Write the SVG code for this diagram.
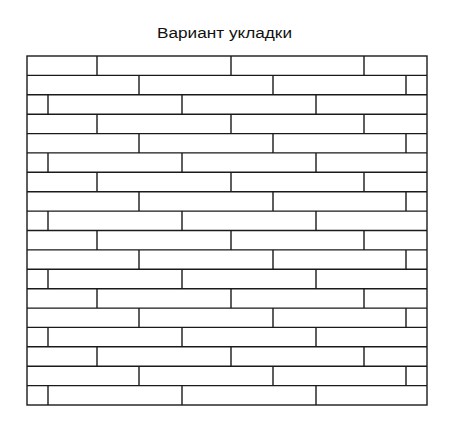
<svg xmlns="http://www.w3.org/2000/svg" width="459" height="431" viewBox="0 0 459 431">
<style>
.t{font-family:"Liberation Sans","DejaVu Sans",sans-serif;font-size:15.5px;fill:#111}
.l{stroke:#1a1a1a;stroke-width:1.4;fill:none}
</style>
<rect width="459" height="431" fill="#fff"/>
<text class="t" x="157" y="38.3" textLength="135" lengthAdjust="spacingAndGlyphs">Вариант укладки</text>
<g id="layout" class="l">
<rect x="27" y="56" width="400" height="349"/>
<path d="M27 75.4H427M27 94.8H427M27 114.2H427M27 133.6H427M27 152.9H427M27 172.3H427M27 191.7H427M27 211.1H427M27 230.5H427M27 249.9H427M27 269.3H427M27 288.7H427M27 308.1H427M27 327.4H427M27 346.8H427M27 366.2H427M27 385.6H427"/>
<path d="M97 56V75.4M231 56V75.4M364 56V75.4
M139 75.4V94.8M273 75.4V94.8M406 75.4V94.8
M48 94.8V114.2M182 94.8V114.2M316 94.8V114.2
M97 114.2V133.6M231 114.2V133.6M364 114.2V133.6
M139 133.6V152.9M273 133.6V152.9M406 133.6V152.9
M48 152.9V172.3M182 152.9V172.3M316 152.9V172.3
M97 172.3V191.7M231 172.3V191.7M364 172.3V191.7
M139 191.7V211.1M273 191.7V211.1M406 191.7V211.1
M48 211.1V230.5M182 211.1V230.5M316 211.1V230.5
M97 230.5V249.9M231 230.5V249.9M364 230.5V249.9
M139 249.9V269.3M273 249.9V269.3M406 249.9V269.3
M48 269.3V288.7M182 269.3V288.7M316 269.3V288.7
M97 288.7V308.1M231 288.7V308.1M364 288.7V308.1
M139 308.1V327.4M273 308.1V327.4M406 308.1V327.4
M48 327.4V346.8M182 327.4V346.8M316 327.4V346.8
M97 346.8V366.2M231 346.8V366.2M364 346.8V366.2
M139 366.2V385.6M273 366.2V385.6M406 366.2V385.6
M48 385.6V405M182 385.6V405M316 385.6V405"/>
</g>
</svg>
